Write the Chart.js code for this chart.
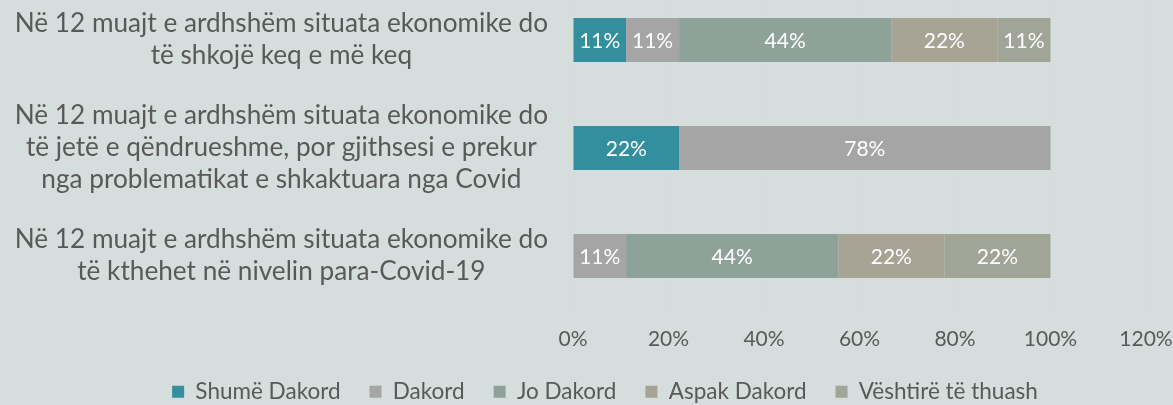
<!DOCTYPE html>
<html>
<head>
<meta charset="utf-8">
<script src="https://cdn.jsdelivr.net/npm/chart.js@4.4.0/dist/chart.umd.min.js"></script>
<style>
  html, body { margin: 0; padding: 0; background: #d5dedc; overflow: hidden; width: 1173px; height: 405px; }
  /* plot area starts slightly above the visible window, like the original */
  #wrap { position: absolute; left: 0; top: -14px; width: 1173px; height: 427px; }
</style>
</head>
<body>
<div id="wrap"><canvas id="chart"></canvas></div>
<script>
// Categories (top to bottom) and the answers per category, in percent
const categories = [
  ["Në 12 muajt e ardhshëm situata ekonomike do", "të shkojë keq e më keq"],
  ["Në 12 muajt e ardhshëm situata ekonomike do", "të jetë e qëndrueshme, por gjithsesi e prekur", "nga problematikat e shkaktuara nga Covid"],
  ["Në 12 muajt e ardhshëm situata ekonomike do", "të kthehet në nivelin para-Covid-19"]
];
const seriesNames = ["Shumë Dakord", "Dakord", "Jo Dakord", "Aspak Dakord", "Vështirë të thuash"];
const shumeDakord = [11.11, 22.22, 0];
const dakord = [11.11, 77.78, 11.11];
const joDakord = [44.44, 0, 44.44];
const aspakDakord = [22.22, 0, 22.22];
const veshtire = [11.11, 0, 22.22];
const xTicks = [0, 20, 40, 60, 80, 100, 120];

const colors = ["#338f9e", "#a5a5a5", "#8fa29a", "#a7a496", "#a1a597"];
const textColor = "#595959";
const fontFamily = "Lato, 'Open Sans', sans-serif";

// white percentage labels in the middle of each segment
const segmentLabels = {
  id: "segmentLabels",
  afterDatasetsDraw(chart) {
    const ctx = chart.ctx;
    ctx.save();
    ctx.fillStyle = "#ffffff";
    ctx.font = "21px " + fontFamily;
    ctx.textAlign = "center";
    ctx.textBaseline = "middle";
    chart.data.datasets.forEach((ds, i) => {
      const meta = chart.getDatasetMeta(i);
      meta.data.forEach((bar, j) => {
        const v = ds.data[j];
        if (!v) return;
        const p = bar.getCenterPoint();
        ctx.fillText(Math.round(v) + "%", p.x, p.y + 1);
      });
    });
    ctx.restore();
  }
};

// the original legend sits a little right of the canvas centre
const legendShift = {
  id: "legendShift",
  afterLayout(chart) {
    chart.legend.left += 32;
    chart.legend.right += 32;
  }
};

const ctx = document.getElementById("chart").getContext("2d");
new Chart(ctx, {
  type: "bar",
  data: {
    labels: categories,
    datasets: [shumeDakord, dakord, joDakord, aspakDakord, veshtire].map((d, i) => ({
      label: seriesNames[i],
      data: d,
      backgroundColor: colors[i],
      borderWidth: 0,
      categoryPercentage: 1,
      barPercentage: 0.407
    }))
  },
  options: {
    indexAxis: "y",
    responsive: true,
    maintainAspectRatio: false,
    animation: false,
    layout: { padding: { top: 0, right: 27, left: 0, bottom: 0 } },
    scales: {
      x: {
        stacked: true,
        min: 0,
        max: 120,
        afterBuildTicks(scale) {
          scale.ticks = xTicks.map(v => ({ value: v }));
        },
        grid: { color: "#dbd8d9", drawTicks: false, lineWidth: 1 },
        border: { display: false },
        ticks: {
          color: textColor,
          font: { family: fontFamily, size: 21 },
          padding: 17,
          callback: v => v + "%"
        },
        afterFit(scale) {
          scale.height = 41.5;
          scale.paddingLeft = 0;
          scale.paddingRight = 0;
        }
      },
      y: {
        stacked: true,
        grid: { display: false, drawTicks: false },
        border: { display: false },
        ticks: {
          color: textColor,
          font: { family: fontFamily, size: 26.2, lineHeight: 1.22 },
          crossAlign: "center",
          padding: 25
        },
        afterFit(scale) {
          scale.width = 573;
          scale.paddingTop = 0;
          scale.paddingBottom = 0;
        }
      }
    },
    plugins: {
      legend: {
        position: "bottom",
        labels: {
          color: textColor,
          font: { family: fontFamily, size: 22.5 },
          boxWidth: 12,
          boxHeight: 12,
          padding: 29
        }
      },
      tooltip: { enabled: false }
    }
  },
  plugins: [segmentLabels, legendShift]
});
</script>
</body>
</html>
